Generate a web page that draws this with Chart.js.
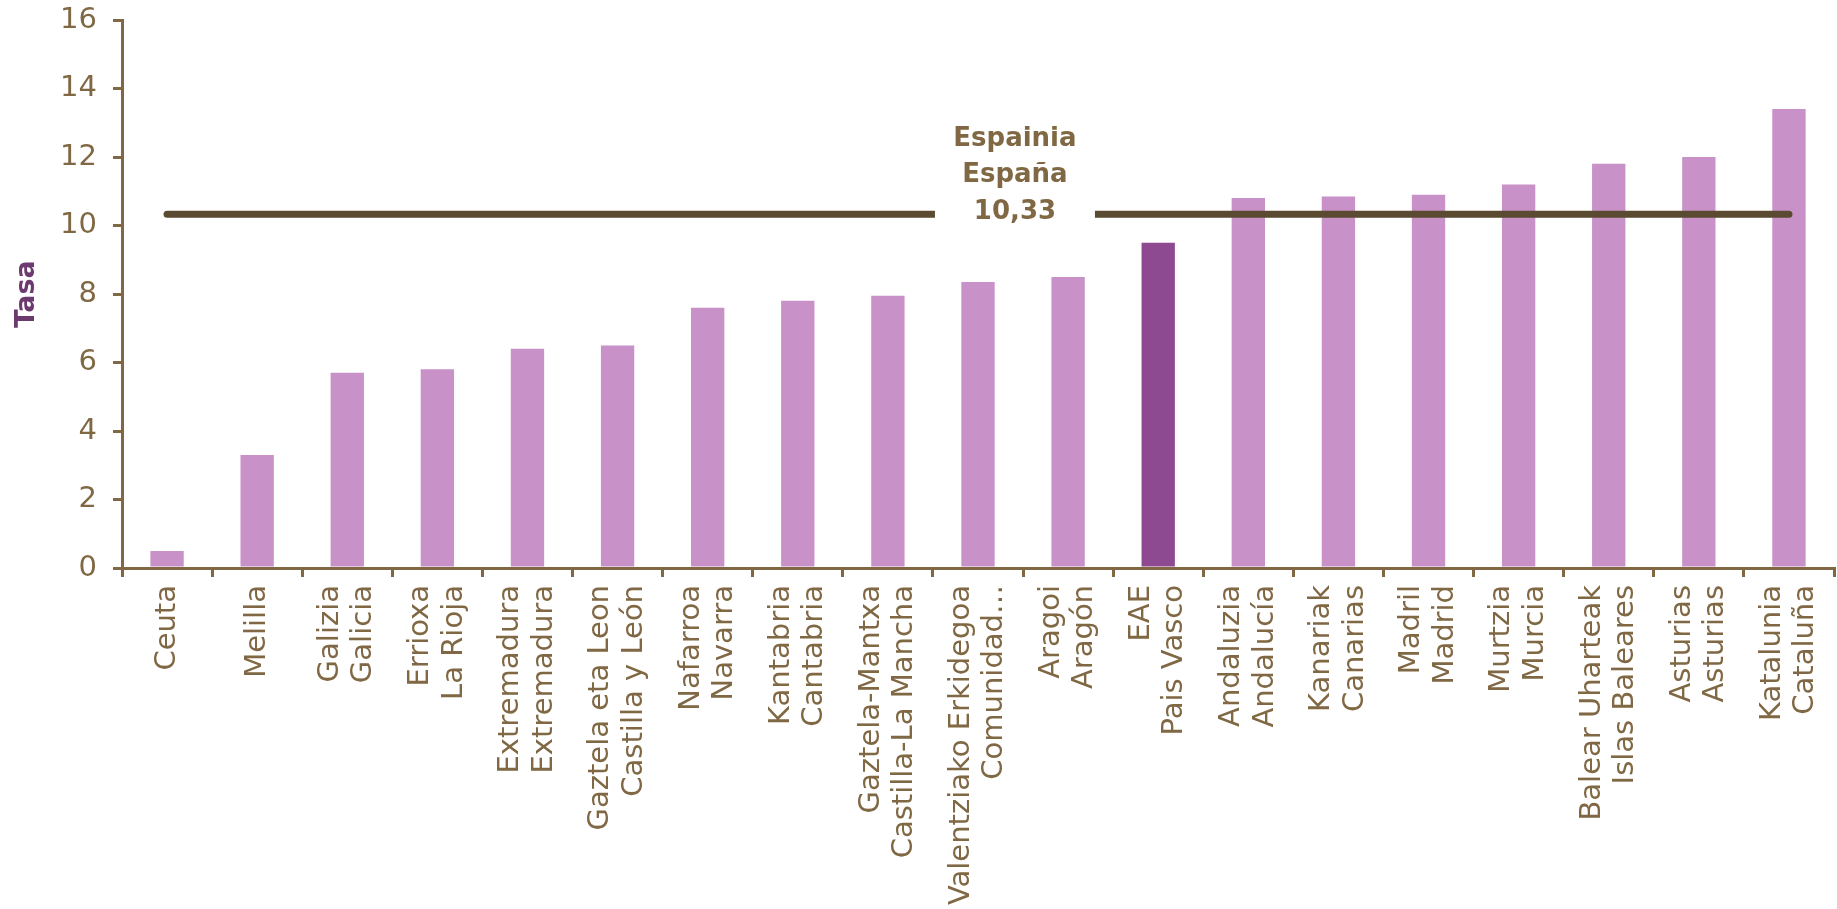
<!DOCTYPE html>
<html>
<head>
<meta charset="utf-8">
<script src="https://cdn.jsdelivr.net/npm/chart.js@4/dist/chart.umd.min.js"></script>
<style>
    html, body { margin: 0; padding: 0; background: #fff; }
    #wrap { width: 1837px; height: 909px; }
</style>
</head>
<body>
<div id="wrap"><canvas id="chart"></canvas></div>
<script>
// Region names (Basque / Spanish) and rates
const regionLabels = [
    ['Ceuta'],
    ['Melilla'],
    ['Galizia', 'Galicia'],
    ['Errioxa', 'La Rioja'],
    ['Extremadura', 'Extremadura'],
    ['Gaztela eta Leon', 'Castilla y León'],
    ['Nafarroa', 'Navarra'],
    ['Kantabria', 'Cantabria'],
    ['Gaztela-Mantxa', 'Castilla-La Mancha'],
    ['Valentziako Erkidegoa', 'Comunidad…'],
    ['Aragoi', 'Aragón'],
    ['EAE', 'Pais Vasco'],
    ['Andaluzia', 'Andalucía'],
    ['Kanariak', 'Canarias'],
    ['Madril', 'Madrid'],
    ['Murtzia', 'Murcia'],
    ['Balear Uharteak', 'Islas Baleares'],
    ['Asturias', 'Asturias'],
    ['Katalunia', 'Cataluña']
];
const rates = [0.5, 3.3, 5.7, 5.8, 6.4, 6.5, 7.6, 7.8, 7.95, 8.35, 8.5, 9.5, 10.8, 10.85, 10.9, 11.2, 11.8, 12.0, 13.4];
const highlightRegion = 'EAE';
const spainRate = 10.33;
const spainLabel = ['Espainia', 'España', '10,33'];
const spainLabelAt = 9.41; // category position of the label box
const yMin = 0;
const yMax = 16;
const yStep = 2;

const brown = '#806844';
const fontFamily = '"DejaVu Sans", sans-serif';
const tickSize = 29;
const tickLineHeight = 1.15;

const barColors = regionLabels.map(l => l[0] === highlightRegion ? '#8E4A91' : '#C891C8');

// White box with the Spain label sitting over the reference line
const spainLabelPlugin = {
    id: 'spainLabel',
    afterDatasetsDraw(chart) {
        const { ctx, scales: { x, y } } = chart;
        const cx = x.getPixelForValue(spainLabelAt);
        const cy = y.getPixelForValue(spainRate);
        ctx.save();
        ctx.fillStyle = '#fff';
        ctx.fillRect(cx - 80, cy - 100, 160, 112);
        ctx.font = 'bold 26px ' + fontFamily;
        ctx.fillStyle = brown;
        ctx.textAlign = 'center';
        ctx.textBaseline = 'middle';
        spainLabel.forEach((t, i) => ctx.fillText(t, cx, cy - 75 + i * 36.5));
        ctx.restore();
    }
};

// centre the two-line region labels on their bar instead of starting at it
function centreLabels(scale) {
    if (scale._centred) return;
    scale._centred = true;
    const orig = scale._computeLabelItems.bind(scale);
    scale._computeLabelItems = function (area) {
        const items = orig(area);
        const lh = tickSize * tickLineHeight;
        items.forEach(it => {
            const n = Array.isArray(it.label) ? it.label.length : 1;
            it.options.translation[0] -= (n - 1) * lh / 2;
        });
        return items;
    };
}

new Chart(document.getElementById('chart'), {
    data: {
        labels: regionLabels,
        datasets: [
            {
                type: 'line',
                data: regionLabels.map(() => spainRate),
                borderColor: '#5A4A31',
                borderWidth: 7,
                borderCapStyle: 'round',
                pointRadius: 0,
                order: 0
            },
            {
                type: 'bar',
                data: rates,
                backgroundColor: barColors,
                barPercentage: 0.37,
                categoryPercentage: 1,
                order: 1
            }
        ]
    },
    options: {
        responsive: true,
        maintainAspectRatio: false,
        animation: false,
        devicePixelRatio: 1,
        layout: { padding: { top: 0, right: 3, left: 0, bottom: 0 } },
        plugins: {
            legend: { display: false },
            tooltip: { enabled: false }
        },
        scales: {
            x: {
                offset: true,
                grid: {
                    display: true,
                    drawOnChartArea: false,
                    offset: true,
                    color: brown,
                    lineWidth: 3,
                    tickLength: 9
                },
                border: { color: brown, width: 3 },
                ticks: {
                    autoSkip: false,
                    maxRotation: 90,
                    minRotation: 90,
                    padding: 8,
                    color: brown,
                    font: { family: fontFamily, size: tickSize, lineHeight: tickLineHeight }
                },
                afterFit: s => {
                    s.height = 341;
                    s.paddingLeft = 0;
                    s.paddingRight = 0;
                    centreLabels(s);
                }
            },
            y: {
                min: yMin,
                max: yMax,
                grid: {
                    display: true,
                    drawOnChartArea: false,
                    color: brown,
                    lineWidth: 3,
                    tickLength: 9
                },
                border: { color: brown, width: 3 },
                ticks: {
                    stepSize: yStep,
                    padding: 16,
                    color: brown,
                    font: { family: fontFamily, size: tickSize }
                },
                title: {
                    display: true,
                    text: 'Tasa',
                    color: '#6D3A70',
                    font: { family: fontFamily, size: 27, weight: 'bold' },
                    padding: { top: 11, bottom: 0 }
                },
                afterFit: s => {
                    s.width = 122;
                    s.paddingTop = 20;
                    s.paddingBottom = 0;
                }
            }
        }
    },
    plugins: [spainLabelPlugin]
});
</script>
</body>
</html>
